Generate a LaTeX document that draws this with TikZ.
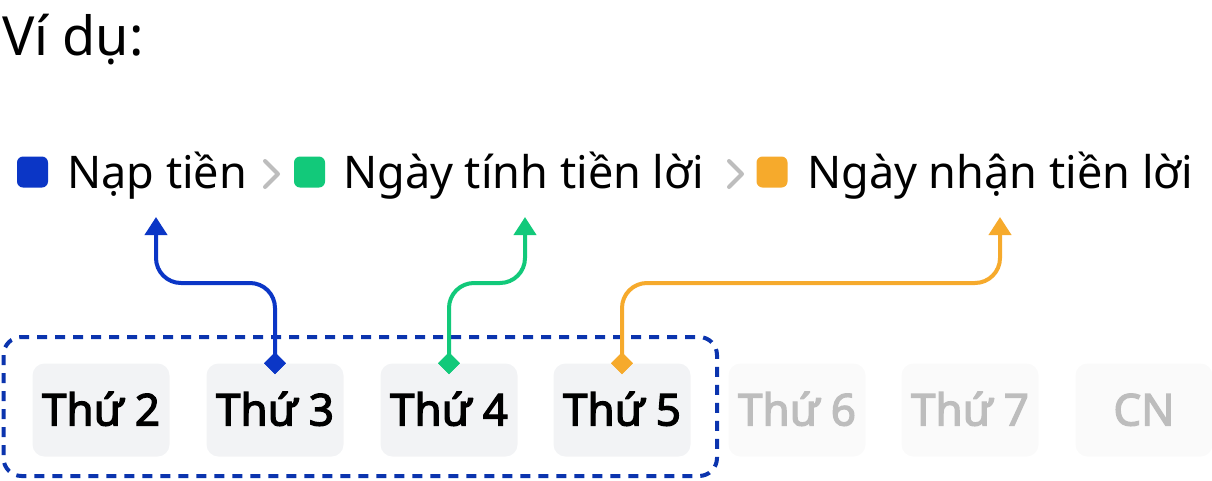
\documentclass[tikz,border=0pt]{standalone}
\usepackage{fontspec}
\setmainfont{Noto Sans}
\newfontfamily\dayfont{Noto Sans}[FakeBold=2.8]
\usetikzlibrary{arrows.meta,shapes.geometric}
\definecolor{cblue}{HTML}{0B36C6}
\definecolor{cdash}{HTML}{0B34AE}
\definecolor{cgreen}{HTML}{12C97A}
\definecolor{corange}{HTML}{F6AA2C}
\definecolor{cgray}{HTML}{BDBDBD}
\definecolor{cbox}{HTML}{F2F3F5}
\definecolor{cboxidle}{HTML}{FAFAFA}
\begin{document}
\begin{tikzpicture}[x=1pt,y=-1pt,
  daybox/.style={rounded corners=12pt, minimum width=137pt, minimum height=93pt, inner sep=0pt,
    text height=31pt, text depth=0pt, font=\dayfont\fontsize{44}{44}\selectfont},
  active/.style={daybox, fill=cbox, text=black},
  idle/.style={daybox, fill=cboxidle, text=cgray},
  legsq/.style={rounded corners=6pt, minimum size=31pt, inner sep=0pt},
  legtxt/.style={anchor=base west, inner sep=0pt, font=\fontsize{45}{45}\selectfont},
  chev/.style={draw=cgray, line width=4pt, line cap=round, line join=round},
  pin/.style={diamond, minimum size=22pt, inner sep=0pt},
  link/.style={line width=4pt, rounded corners=25pt, -{Triangle[width=22pt,length=18pt]}},
  frame/.style={draw=cdash, line width=4pt, rounded corners=18pt, dash pattern=on 10pt off 8pt},
]
\useasboundingbox (0,0) rectangle (1212,480);
% title
\node[anchor=base west, inner sep=0pt, font=\fontsize{54}{54}\selectfont] (title) at (2,55) {Ví dụ:};
% legend
\node[legsq, fill=cblue] (sqA) at (32.5,172) {};
\node[legtxt] (lA) at (67,188) {Nạp tiền};
\draw[chev] (265,161) -- (278,174) -- (265,187);
\node[legsq, fill=cgreen] (sqB) at (309.5,172) {};
\node[legtxt] (lB) at (343,188) {Ngày tính tiền lời};
\draw[chev] (729,161) -- (742,174) -- (729,187);
\node[legsq, fill=corange] (sqC) at (772,172) {};
\node[legtxt] (lC) at (807,188) {Ngày nhận tiền lời};
% dashed frame
\draw[frame] (3.5,337) rectangle (717,476);
% days
\node[active] (d2) at (101,410) {Thứ 2};
\node[active] (d3) at (275,410) {Thứ 3};
\node[active] (d4) at (449,410) {Thứ 4};
\node[active] (d5) at (622,410) {Thứ 5};
\node[idle] (d6) at (797,410) {Thứ 6};
\node[idle] (d7) at (970,410) {Thứ 7};
\node[idle] (dcn) at (1144,410) {CN};
% pins
\node[pin, fill=cblue] (p3) at (d3.north) {};
\node[pin, fill=cgreen] (p4) at (d4.north) {};
\node[pin, fill=corange] (p5) at (d5.north) {};
% arrow targets
\coordinate (tA) at (156,217);
\coordinate (tB) at (525,217);
\coordinate (tC) at (1000,217);
\coordinate (hl) at (0,283);
\draw[link, cblue] (p3.center) -- (p3 |- hl) -- (tA |- hl) -- (tA);
\draw[link, cgreen] (p4.center) -- (p4 |- hl) -- (tB |- hl) -- (tB);
\draw[link, corange] (p5.center) -- (p5 |- hl) -- (tC |- hl) -- (tC);
\node[pin, fill=cblue] at (p3) {};
\node[pin, fill=cgreen] at (p4) {};
\node[pin, fill=corange] at (p5) {};
\end{tikzpicture}
\end{document}
